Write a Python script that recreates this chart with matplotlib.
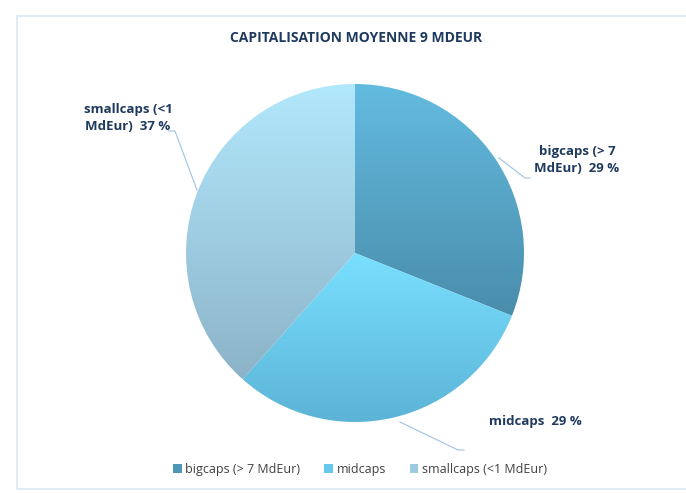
import numpy as np
import matplotlib.pyplot as plt
from matplotlib.colors import LinearSegmentedColormap
from matplotlib.patches import Rectangle, Patch

# =========================================================
# DATA
# =========================================================
categories = ["bigcaps (> 7 MdEur)", "midcaps", "smallcaps (<1 MdEur)"]
values = [29.5, 29.0, 36.5]
label_texts = ["bigcaps (> 7\nMdEur)  29 %", "midcaps  29 %", "smallcaps (<1\nMdEur)  37 %"]
title = "CAPITALISATION MOYENNE 9 MDEUR"

# gradient top -> bottom for each slice
grad_top = ["#63bbe0", "#7ae0ff", "#b2e8fc"]
grad_bottom = ["#4a8dab", "#5bb3d6", "#8cb3c8"]
legend_colors = ["#4f97b6", "#68c8ec", "#9ccbe0"]

# =========================================================
# LAYOUT (pixel space, y up)
# =========================================================
W, H = 686, 493
CX, CY, R = 355, H - 253, 169

label_pos = [(577, H - 160), (535, H - 422), (128, H - 118)]
leader_lines = [
    [(499, H - 158), (525, H - 178), (530, H - 178)],
    [(400, H - 422), (458, H - 450), (464, H - 450)],
    [(197, H - 190), (175, H - 131), (168, H - 131)],
]

TEXT_COLOR = "#1f3a5f"
FONT = ["Open Sans", "DejaVu Sans"]

fig = plt.figure(figsize=(W / 100, H / 100), dpi=100)
ax = fig.add_axes([0, 0, 1, 1])

# frame
ax.add_patch(Rectangle((17, H - 489), 700, 473, fill=False,
                       edgecolor="#dbe8f4", linewidth=1.2))

wedges, _ = ax.pie(values, startangle=90, counterclock=False,
                   center=(CX, CY), radius=R, frame=True,
                   wedgeprops=dict(facecolor="none", edgecolor="none"))

# gradient fill clipped to each wedge
for w, top, bot in zip(wedges, grad_top, grad_bottom):
    verts = w.get_patch_transform().transform(w.get_path().vertices)
    x0, x1 = verts[:, 0].min(), verts[:, 0].max()
    y0, y1 = verts[:, 1].min(), verts[:, 1].max()
    cmap = LinearSegmentedColormap.from_list("g", [bot, top])
    grad = np.linspace(0, 1, 256).reshape(-1, 1)
    im = ax.imshow(grad, cmap=cmap, origin="lower", aspect="auto",
                   extent=(x0, x1, y0, y1), interpolation="bilinear", zorder=2)
    im.set_clip_path(w)

ax.set_xlim(0, W)
ax.set_ylim(0, H)
ax.set_aspect("equal")
ax.axis("off")

# leader lines
for pts in leader_lines:
    xs, ys = zip(*pts)
    ax.plot(xs, ys, color="#9cc3e6", linewidth=0.8, zorder=3)

# data labels
for (x, y), txt in zip(label_pos, label_texts):
    ax.text(x, y, txt, ha="center", va="center", fontsize=9.5,
            fontweight="bold", color=TEXT_COLOR, family=FONT,
            linespacing=1.35, zorder=4)

ax.text(356, H - 38, title, ha="center", va="center", fontsize=10,
        fontweight="bold", color=TEXT_COLOR, family=FONT)

# legend
handles = [Patch(facecolor=c, edgecolor="none") for c in legend_colors]
ax.legend(handles, categories, loc="center", bbox_to_anchor=(360 / W, 1 - 469 / H),
          ncol=3, frameon=False, handlelength=0.7, handleheight=0.7,
          handletextpad=0.3, columnspacing=1.9,
          prop=dict(family=FONT, size=9), labelcolor="#404040")

fig.savefig("out.png", dpi=100)
